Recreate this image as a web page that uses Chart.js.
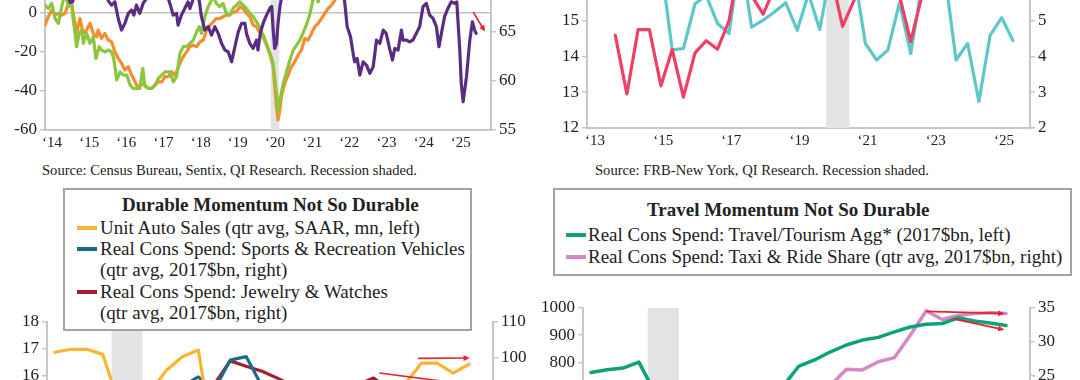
<!DOCTYPE html>
<html>
<head>
<meta charset="utf-8">
<script src="https://cdn.jsdelivr.net/npm/chart.js@4.4.1/dist/chart.umd.min.js"></script>
<style>
  html, body { margin: 0; padding: 0; }
  body { width: 1080px; height: 380px; overflow: hidden; position: relative; background: #fff;
         font-family: 'Liberation Serif', serif; color: #222; }
  canvas { position: absolute; }
  .src { position: absolute; font-size: 14.6px; line-height: 16px; white-space: nowrap; }
  .box { position: absolute; background: #fff; border: 2px solid #a3a3a3; box-sizing: border-box; z-index: 2; }
  .ln { position: absolute; white-space: nowrap; font-size: 19px; line-height: 20px; z-index: 3; }
  .ttl { font-weight: bold; }
  .mk { position: absolute; height: 4px; width: 20px; z-index: 3; }
</style>
</head>
<body>
<canvas id="cA"></canvas>
<canvas id="cB"></canvas>
<canvas id="cC"></canvas>
<canvas id="cD"></canvas>

<div class="src" style="left:42px; top:162px;">Source: Census Bureau, Sentix, QI Research. Recession shaded.</div>
<div class="src" style="left:595px; top:162px;">Source: FRB-New York, QI Research. Recession shaded.</div>

<div class="box" style="left:63px; top:188px; width:409px; height:143px;"></div>
<div class="ln ttl" style="left:122px; top:195px;">Durable Momentum Not So Durable</div>
<div class="mk" style="left:77px; top:226px; background:#fbb431;"></div>
<div class="ln" style="left:100px; top:218px;">Unit Auto Sales (qtr avg, SAAR, mn, left)</div>
<div class="mk" style="left:77px; top:247px; background:#1b6a89;"></div>
<div class="ln" style="left:100px; top:239px;">Real Cons Spend: Sports &amp; Recreation Vehicles</div>
<div class="ln" style="left:100px; top:260px;">(qtr avg, 2017$bn, right)</div>
<div class="mk" style="left:77px; top:290px; background:#a51d33;"></div>
<div class="ln" style="left:100px; top:282px;">Real Cons Spend: Jewelry &amp; Watches</div>
<div class="ln" style="left:100px; top:303px;">(qtr avg, 2017$bn, right)</div>

<div class="box" style="left:553px; top:188px; width:519px; height:88px;"></div>
<div class="ln ttl" style="left:647px; top:200px;">Travel Momentum Not So Durable</div>
<div class="mk" style="left:566px; top:233px; background:#0ea27b;"></div>
<div class="ln" style="left:588px; top:225px;">Real Cons Spend: Travel/Tourism Agg* (2017$bn, left)</div>
<div class="mk" style="left:566px; top:255px; background:#d687c8;"></div>
<div class="ln" style="left:588px; top:247px;">Real Cons Spend: Taxi &amp; Ride Share (qtr avg, 2017$bn, right)</div>

<script>
// ---- top-left panel: monthly series, [decimal year, value] (left axis units)
const tlSentix = [[2014.00,22],[2014.20,19],[2014.40,14],[2014.60,9],[2014.68,5.0],[2014.74,5.4],[2014.80,9],[2014.95,15],[2015.20,18],[2015.45,14],[2015.62,9],[2015.72,5.5],[2015.79,3.7],[2015.88,5.4],[2015.97,-3.1],[2016.06,-9.0],[2016.15,-5.6],[2016.24,-0.5],[2016.33,1.2],[2016.39,-1.4],[2016.46,3.7],[2016.55,-0.5],[2016.64,4.6],[2016.73,7],[2016.85,11],[2017.00,14],[2017.15,12],[2017.30,8],[2017.36,4.6],[2017.45,-1.4],[2017.54,-0.5],[2017.58,-6.5],[2017.67,-1.4],[2017.76,2.0],[2017.85,5.4],[2017.90,2.0],[2017.99,7],[2018.08,9],[2018.15,6],[2018.21,-2.2],[2018.30,-9.0],[2018.39,-7.3],[2018.48,-11.6],[2018.57,-7.3],[2018.66,-10.7],[2018.75,-15.8],[2018.84,-19.2],[2018.93,-20.1],[2019.02,-25.2],[2019.11,-17.5],[2019.20,-9.9],[2019.29,-5.6],[2019.38,-5.6],[2019.42,-10.7],[2019.51,-15.8],[2019.60,-18.4],[2019.69,-14.1],[2019.73,-19.2],[2019.80,-10],[2019.88,-5],[2019.97,-1],[2020.06,2.5],[2020.10,3.0],[2020.14,-9.0],[2020.18,-18.4],[2020.23,-15.8],[2020.27,-5.6],[2020.32,2.9],[2020.36,7],[2020.50,12],[2020.80,18],[2021.20,25],[2021.50,30],[2021.80,24],[2022.00,12],[2022.06,6.0],[2022.13,-7.3],[2022.22,-12.4],[2022.29,-20.9],[2022.33,-25.2],[2022.40,-23.5],[2022.47,-32.0],[2022.56,-25.2],[2022.65,-26.9],[2022.74,-31.1],[2022.83,-27.7],[2022.92,-14.1],[2023.01,-15.8],[2023.10,-9.0],[2023.18,-10.7],[2023.27,-18.4],[2023.35,-24.3],[2023.41,-18.4],[2023.50,-19.2],[2023.59,-9.0],[2023.63,-14.1],[2023.72,-14.1],[2023.81,-15.0],[2023.90,-14.1],[2023.99,-10.7],[2024.08,-7.3],[2024.17,2.9],[2024.26,4.6],[2024.35,-1.4],[2024.44,-3.1],[2024.53,-7.3],[2024.60,-17.5],[2024.69,-8.2],[2024.75,-2.2],[2024.84,2.0],[2024.93,5.4],[2025.02,4.6],[2025.08,5.4],[2025.16,-19.2],[2025.20,-36.2],[2025.25,-45.6],[2025.34,-32.8],[2025.43,-14.1],[2025.50,-4.8],[2025.56,-9.0],[2025.60,-10.7]];
const tlGreen = [[2014.00,3.7],[2014.09,2.0],[2014.18,4.6],[2014.27,-3.1],[2014.36,-5.6],[2014.45,2.9],[2014.49,6.3],[2014.55,9],[2014.63,2.9],[2014.69,8],[2014.76,-3.9],[2014.81,-10.7],[2014.85,-17.5],[2014.92,-10.7],[2014.99,-9.0],[2015.03,-15.8],[2015.12,-10.7],[2015.21,-15.8],[2015.30,-12.4],[2015.37,-23.5],[2015.46,-17.5],[2015.52,-19.2],[2015.61,-20.1],[2015.70,-19.2],[2015.79,-20.1],[2015.85,-23.5],[2015.93,-34.5],[2016.02,-30.3],[2016.11,-32.0],[2016.20,-32.0],[2016.29,-37.1],[2016.37,-38.8],[2016.46,-38.8],[2016.55,-38.8],[2016.63,-28.6],[2016.69,-37.9],[2016.78,-38.8],[2016.87,-38.8],[2016.96,-37.1],[2017.05,-33.7],[2017.14,-32.0],[2017.23,-30.3],[2017.36,-30.3],[2017.45,-35.4],[2017.54,-32.8],[2017.63,-20.9],[2017.72,-17.5],[2017.81,-17.5],[2017.90,-15.8],[2017.99,-14.1],[2018.08,-9.9],[2018.15,-7.3],[2018.21,-10.7],[2018.30,-2.2],[2018.39,2.9],[2018.48,6.3],[2018.53,8],[2018.61,4.6],[2018.70,2.9],[2018.79,4.6],[2018.88,-0.5],[2018.97,-1.4],[2019.06,2.0],[2019.15,3.7],[2019.24,5.4],[2019.33,3.7],[2019.42,2.0],[2019.51,-0.5],[2019.60,-2.2],[2019.69,-4.8],[2019.78,-7.5],[2019.87,-11.6],[2019.96,-15.8],[2020.05,-20.9],[2020.14,-26.0],[2020.18,-32.8],[2020.23,-41.3],[2020.27,-50.7],[2020.32,-44.7],[2020.41,-36.2],[2020.50,-30.3],[2020.59,-24.3],[2020.68,-19.2],[2020.77,-16.7],[2020.86,-14.1],[2020.94,-10.7],[2021.03,-6.5],[2021.12,-1.4],[2021.17,2.9],[2021.21,6.3],[2021.28,10],[2021.35,5.4],[2021.42,12],[2021.60,18]];
const tlOrange = [[2014.00,-6.5],[2014.09,-2.2],[2014.18,1.2],[2014.27,-1.4],[2014.36,-0.5],[2014.45,-1.4],[2014.54,-0.5],[2014.63,4.6],[2014.68,9],[2014.76,-0.5],[2014.81,-5.6],[2014.85,-10.7],[2014.94,-3.1],[2015.03,-10.7],[2015.12,-9.0],[2015.21,-5.6],[2015.30,-10.7],[2015.39,-12.4],[2015.43,-9.0],[2015.52,-13.3],[2015.61,-10.7],[2015.70,-14.1],[2015.79,-15.0],[2015.88,-20.1],[2015.97,-23.5],[2016.06,-26.0],[2016.15,-29.4],[2016.24,-27.7],[2016.33,-32.0],[2016.42,-35.4],[2016.51,-38.8],[2016.60,-36.2],[2016.69,-37.1],[2016.78,-38.8],[2016.87,-38.8],[2016.96,-37.1],[2017.05,-35.4],[2017.14,-35.4],[2017.23,-32.8],[2017.32,-32.8],[2017.41,-30.3],[2017.49,-32.0],[2017.54,-30.3],[2017.63,-26.0],[2017.72,-22.6],[2017.81,-20.1],[2017.90,-17.5],[2017.99,-16.7],[2018.08,-17.5],[2018.17,-15.0],[2018.26,-14.1],[2018.35,-9.0],[2018.44,-6.5],[2018.53,-4.8],[2018.61,-3.1],[2018.70,-3.1],[2018.79,-2.2],[2018.88,-1.4],[2018.97,-1.4],[2019.06,0.3],[2019.15,0.3],[2019.24,2.9],[2019.33,2.0],[2019.42,-0.5],[2019.51,-2.2],[2019.60,-6.5],[2019.69,-7.3],[2019.78,-10.3],[2019.87,-12.8],[2019.96,-16.7],[2020.05,-21.3],[2020.14,-27.7],[2020.18,-37.9],[2020.23,-48.1],[2020.27,-54.9],[2020.32,-49.8],[2020.36,-43.0],[2020.45,-36.2],[2020.54,-32.0],[2020.63,-27.7],[2020.72,-25.2],[2020.81,-21.8],[2020.90,-19.2],[2020.99,-13.3],[2021.08,-14.1],[2021.17,-10.7],[2021.26,-7.3],[2021.35,-5.6],[2021.44,-3.1],[2021.53,-0.5],[2021.62,2.0],[2021.71,3.7],[2021.80,6.3],[2021.95,12],[2022.10,18]];
const tlRecession = [2020.07, 2020.30];
const tlArrow = [[2025.52, 0.3], [2025.84, -9.9]];

// ---- top-right panel: [decimal year, value]
const trPink = [[2013.83,14.59],[2014.17,12.95],[2014.50,14.75],[2014.83,14.75],[2015.17,13.18],[2015.50,14.19],[2015.83,12.86],[2016.17,14.10],[2016.50,14.44],[2016.83,14.20],[2017.17,15.0],[2017.50,16.8],[2017.83,15.7],[2018.17,15.18],[2018.50,15.9],[2018.83,16.3],[2019.17,16.0],[2019.50,16.5],[2019.83,16.2],[2020.17,16.25],[2020.50,14.84],[2020.83,15.55],[2021.17,16.5],[2021.50,16.9],[2021.83,16.6],[2022.17,15.7],[2022.50,14.41],[2022.83,15.7],[2023.17,16.4]];
const trTeal = [[2015.17,6.6],[2015.50,4.18],[2015.83,4.22],[2016.17,5.47],[2016.50,5.7],[2016.83,4.92],[2017.17,4.64],[2017.50,6.9],[2017.83,4.82],[2018.17,5.01],[2018.50,5.24],[2018.83,5.5],[2019.17,4.73],[2019.50,5.75],[2019.83,4.75],[2020.17,6.5],[2020.50,6.8],[2020.83,6.4],[2021.17,4.36],[2021.50,3.90],[2021.83,4.18],[2022.17,5.5],[2022.50,4.08],[2022.83,6.0],[2023.17,6.5],[2023.50,6.3],[2023.83,3.90],[2024.17,4.36],[2024.50,2.74],[2024.83,4.59],[2025.17,5.08],[2025.50,4.44]];
const trRecession = [2020.02, 2020.70];

// ---- bottom panels: quarterly
const quarters = ['1Q19','2Q19','3Q19','4Q19','1Q20','2Q20','3Q20','4Q20','1Q21','2Q21','3Q21','4Q21','1Q22','2Q22','3Q22','4Q22','1Q23','2Q23','3Q23','4Q23','1Q24','2Q24','3Q24','4Q24','1Q25','2Q25','3Q25','4Q25'];
const autoSales = [16.87,16.98,16.98,16.79,15.0,11.3,15.4,16.2,16.70,16.95,13.3,12.7,14.0,13.6,13.6,14.2,15.0,15.6,15.5,15.5,15.4,15.7,15.7,16.46,16.46,16.09,16.42];
const sportsRec = [85,86,86,87,84,88,92,91,92,94.6,91,99.3,100.3,92,90,89,88,89,88,88,87,88,88,89,89,90,90];
const jewelry = [84,85,86,86,80,70,88,90,91,92,92.5,99.1,97.6,96.2,94.2,92.0,91.0,90.5,90.0,92.4,94.3,91.0,90.5,90.0,89.5,89.0,89.0];
const durRecession = [3.55, 5.5];
const durArrows = [[[22.8, 99.8], [26.05, 99.9]], [[20.36, 95.7], [26.05, 92.4]]];

const travelAgg = [763,773,779,801,690,520,600,640,660,690,705,710,710,785,809,839,864,882,892,912,930,940,943,964,952,945,936];
const taxiRide = [22,22.5,23,23.5,20,9,13,14,15.5,17.5,19,20,21,22,23,23.6,26.0,25.9,27.1,27.7,31.0,34.6,33.3,33.9,34.2,34.3,34.2];
const travRecession = [3.55, 5.5];
const travArrows = [[[21.0, 34.5], [25.9, 34.2]], [[22.7, 33.4], [25.9, 31.8]]];

const FONT = "'Liberation Serif', serif";
const AXIS = '#c6c6c6';
const TEXT = '#222';

function shadePlugin(range) {
  return {
    id: 'shade',
    beforeDatasetsDraw(chart) {
      const { ctx, chartArea, scales } = chart;
      const x1 = scales.x.getPixelForValue(range[0]);
      const x2 = scales.x.getPixelForValue(range[1]);
      ctx.save();
      ctx.fillStyle = '#e2e3e5';
      ctx.fillRect(x1, chartArea.top, x2 - x1, chartArea.bottom - chartArea.top);
      ctx.restore();
    }
  };
}

function arrowPlugin(list, axisId) {
  return {
    id: 'arrows',
    afterDatasetsDraw(chart) {
      const { ctx, scales } = chart;
      const ys = scales[axisId];
      list.forEach(([a, b]) => {
        const x1 = scales.x.getPixelForValue(a[0]), y1 = ys.getPixelForValue(a[1]);
        const x2 = scales.x.getPixelForValue(b[0]), y2 = ys.getPixelForValue(b[1]);
        const ang = Math.atan2(y2 - y1, x2 - x1), h = 7;
        ctx.save();
        ctx.strokeStyle = ctx.fillStyle = '#e8222b';
        ctx.lineWidth = 1.6;
        ctx.beginPath(); ctx.moveTo(x1, y1); ctx.lineTo(x2 - 3 * Math.cos(ang), y2 - 3 * Math.sin(ang)); ctx.stroke();
        ctx.beginPath();
        ctx.moveTo(x2, y2);
        ctx.lineTo(x2 - h * Math.cos(ang - 0.42), y2 - h * Math.sin(ang - 0.42));
        ctx.lineTo(x2 - h * Math.cos(ang + 0.42), y2 - h * Math.sin(ang + 0.42));
        ctx.closePath(); ctx.fill();
        ctx.restore();
      });
    }
  };
}

function yScale(position, min, max, step, width, zeroLine) {
  return {
    position, min, max,
    ticks: { stepSize: step, color: TEXT, font: { family: FONT, size: 17 }, padding: 3,
             callback: v => String(v) },
    grid: {
      drawOnChartArea: !!zeroLine,
      color: ctx => (zeroLine && ctx.tick && ctx.tick.value === 0) ? '#c4c4c4' : 'rgba(0,0,0,0)',
      lineWidth: 1.5,
      tickColor: AXIS, tickLength: 5, tickWidth: 1.5
    },
    border: { color: AXIS, width: 2 },
    afterFit(scale) { scale.width = width; }
  };
}

function xYears(min, max, step, offset) {
  return {
    type: 'linear', position: 'bottom', min, max,
    afterBuildTicks(scale) {
      const t = [];
      for (let v = min; v < max; v += step) t.push({ value: v });
      scale.ticks = t;
    },
    ticks: {
      color: TEXT, font: { family: FONT, size: 15 }, padding: 4, labelOffset: offset,
      autoSkip: false, maxRotation: 0,
      callback: v => '\u2018' + String(v).slice(2)
    },
    grid: { drawOnChartArea: false, drawTicks: false },
    border: { color: AXIS, width: 2 },
    afterFit(scale) { scale.height = 30; }
  };
}

function place(id, left, top, w, h) {
  const c = document.getElementById(id);
  c.width = w; c.height = h;
  c.style.left = left + 'px'; c.style.top = top + 'px';
  return c;
}

function lineSet(label, data, color, axis, width) {
  return {
    label, data, yAxisID: axis, borderColor: color, backgroundColor: color,
    borderWidth: width, pointRadius: 0, tension: 0, borderJoinStyle: 'round', borderCapStyle: 'round'
  };
}

const base = {
  responsive: false, animation: false, devicePixelRatio: 1,
  plugins: { legend: { display: false }, tooltip: { enabled: false } }
};

const toXY = arr => arr.map(([x, y]) => ({ x, y }));

// top-left
new Chart(place('cA', 0, -86, 540, 246), {
  type: 'line',
  data: { datasets: [
    lineSet('Sentix', toXY(tlSentix), '#5b2d82', 'y', 3.2),
    lineSet('Census series 1', toXY(tlGreen), '#8cc63e', 'y', 3.2),
    lineSet('Census series 2', toXY(tlOrange), '#f68d2e', 'y', 3.2)
  ] },
  options: Object.assign({}, base, {
    layout: { padding: { top: 20, left: 0, right: 0, bottom: 0 } },
    scales: {
      x: xYears(2014, 2026, 1, 7),
      y: yScale('left', -60, 40, 20, 45, true),
      y1: yScale('right', 55, 75, 5, 49, false)
    }
  }),
  plugins: [shadePlugin(tlRecession), arrowPlugin([tlArrow], 'y')]
});

// top-right
new Chart(place('cB', 540, -71, 540, 229), {
  type: 'line',
  data: { datasets: [
    lineSet('Left series', toXY(trPink), '#ef3f65', 'y', 3.2),
    lineSet('Right series', toXY(trTeal), '#5cc8c7', 'y1', 3.2)
  ] },
  options: Object.assign({}, base, {
    layout: { padding: { top: 20, left: 0, right: 0, bottom: 0 } },
    scales: {
      x: xYears(2013, 2026, 2, 8),
      y: yScale('left', 12, 17, 1, 47, false),
      y1: yScale('right', 2, 7, 1, 50, false)
    }
  }),
  plugins: [shadePlugin(trRecession)]
});

// bottom-left
new Chart(place('cC', 0, 302, 540, 254), {
  type: 'line',
  data: { labels: quarters, datasets: [
    lineSet('Unit Auto Sales (qtr avg, SAAR, mn, left)', autoSales, '#fbb431', 'y', 3.2),
    lineSet('Real Cons Spend: Sports & Recreation Vehicles (qtr avg, 2017$bn, right)', sportsRec, '#1b6a89', 'y1', 3.2),
    lineSet('Real Cons Spend: Jewelry & Watches (qtr avg, 2017$bn, right)', jewelry, '#a51d33', 'y1', 3.2)
  ] },
  options: Object.assign({}, base, {
    layout: { padding: { top: 20, left: 0, right: 0, bottom: 20 } },
    scales: {
      x: { type: 'category', offset: true, display: false },
      y: yScale('left', 10, 18, 1, 47, false),
      y1: yScale('right', 50, 110, 10, 47, false)
    }
  }),
  plugins: [shadePlugin(durRecession), arrowPlugin(durArrows, 'y1')]
});

// bottom-right
new Chart(place('cD', 540, 288, 540, 176), {
  type: 'line',
  data: { labels: quarters, datasets: [
    lineSet('Real Cons Spend: Travel/Tourism Agg* (2017$bn, left)', travelAgg, '#0ea27b', 'y', 3.5),
    lineSet('Real Cons Spend: Taxi & Ride Share (qtr avg, 2017$bn, right)', taxiRide, '#d687c8', 'y1', 3.5)
  ] },
  options: Object.assign({}, base, {
    layout: { padding: { top: 20, left: 0, right: 0, bottom: 20 } },
    scales: {
      x: { type: 'category', offset: true, display: false },
      y: yScale('left', 500, 1000, 100, 43, false),
      y1: yScale('right', 15, 35, 5, 50, false)
    }
  }),
  plugins: [shadePlugin(travRecession), arrowPlugin(travArrows, 'y1')]
});
</script>
</body>
</html>
